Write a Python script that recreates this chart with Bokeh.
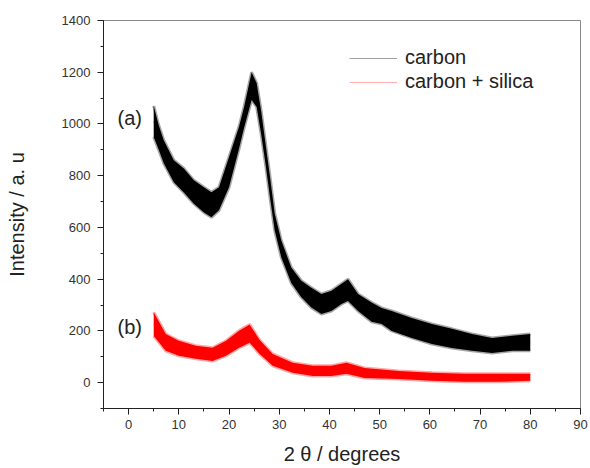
from bokeh.plotting import figure
from bokeh.models import (ColumnDataSource, Legend, LegendItem, Label,
                          SingleIntervalTicker, Range1d)
from bokeh.embed import file_html
from bokeh.resources import INLINE

# ---- data (band of the noisy trace: low / high) ----
carbon_2theta = [5, 6, 7, 9, 11, 13, 15, 16.5, 18, 20, 22, 23, 24.5, 25.5,
                 26.4, 27.3, 28.2, 29.1, 30.4, 32.4, 34.4, 36.4, 38.4, 40.4,
                 42.4, 43.7, 45.7, 48.4, 50.4, 52.4, 56.4, 60.4, 64.4, 68.4,
                 72.4, 76.4, 80]
carbon_low = [950, 900, 848, 775, 735, 692, 658, 639, 666, 755, 905, 985,
              1093, 1066, 960, 840, 710, 588, 485, 385, 330, 290, 265, 277,
              304, 316, 277, 235, 227, 200, 173, 149, 134, 123, 115, 123, 123]
carbon_high = [1070, 995, 937, 860, 828, 782, 755, 736, 755, 872, 990, 1066,
               1200, 1158, 1050, 920, 790, 654, 550, 445, 394, 367, 343, 355,
               382, 400, 343, 310, 289, 277, 250, 227, 208, 188, 173, 181, 188]

silica_2theta = [5, 7.4, 10, 13.4, 16.7, 19.4, 22, 24.1, 26.1, 28.7, 32.7,
                 36.7, 40.4, 43.4, 47, 53.8, 60.4, 67, 73.8, 80]
silica_low = [180, 123, 104, 92, 84, 104, 135, 154, 111, 65, 38, 26, 26, 34,
              18, 14, 7, 3, 3, 7]
silica_high = [272, 188, 162, 143, 135, 162, 201, 225, 165, 111, 77, 65, 65,
               77, 57, 45, 38, 34, 34, 34]

series_names = ["carbon", "carbon + silica"]
curve_labels = ["(a)", "(b)"]

FONT = "Liberation Sans"

src_c = ColumnDataSource(dict(x=carbon_2theta, lo=carbon_low, hi=carbon_high,
                              mid=[(a + b) / 2 for a, b in zip(carbon_low, carbon_high)]))
src_s = ColumnDataSource(dict(x=silica_2theta, lo=silica_low, hi=silica_high,
                              mid=[(a + b) / 2 for a, b in zip(silica_low, silica_high)]))

p = figure(frame_width=477, frame_height=388,
           min_border_left=103, min_border_right=10, min_border_top=20,
           min_border_bottom=0,
           x_range=Range1d(-5, 90), y_range=Range1d(-100, 1400),
           output_backend="svg", toolbar_location=None)

p.xgrid.visible = False
p.ygrid.visible = False
p.outline_line_color = "#8a8a8a"
p.outline_line_width = 1
p.background_fill_color = "white"
p.border_fill_color = "white"

# legend lines (hidden underneath the bands)
lc = p.line("x", "mid", source=src_c, line_color="#a0a0a0", line_width=1)
ls = p.line("x", "mid", source=src_s, line_color="#ffb0b0", line_width=1)

# noisy fringe of each trace
for src, col in ((src_c, "black"), (src_s, "#ff0000")):
    p.line("x", "lo", source=src, line_color=col, line_width=3, line_alpha=0.35)
    p.line("x", "hi", source=src, line_color=col, line_width=3, line_alpha=0.35)

p.varea(x="x", y1="lo", y2="hi", source=src_c, fill_color="black")
p.varea(x="x", y1="lo", y2="hi", source=src_s, fill_color="#ff0000")

# axes
p.xaxis.ticker = SingleIntervalTicker(interval=10, num_minor_ticks=2)
p.yaxis.ticker = SingleIntervalTicker(interval=200, num_minor_ticks=2)
for ax in (p.xaxis[0], p.yaxis[0]):
    ax.axis_line_color = "#222222"
    ax.major_tick_line_color = "#222222"
    ax.minor_tick_line_color = "#222222"
    ax.major_tick_in = 0
    ax.major_tick_out = 6
    ax.minor_tick_in = 0
    ax.minor_tick_out = 3
    ax.major_label_text_font = FONT
    ax.major_label_text_font_size = "13px"
    ax.major_label_text_color = "#333333"
    ax.axis_label_text_font = FONT
    ax.axis_label_text_font_size = "20px"
    ax.axis_label_text_font_style = "normal"
    ax.axis_label_text_color = "#222222"

p.xaxis.axis_label = "2 θ / degrees"
p.yaxis.axis_label = "Intensity / a. u"
p.xaxis.major_label_standoff = 5
p.xaxis.axis_label_standoff = 11
p.yaxis.major_label_standoff = 7
p.yaxis.axis_label_standoff = 31

# curve labels
p.add_layout(Label(x=-2.2, y=1023, text=curve_labels[0], text_font=FONT,
                   text_font_size="20px", text_baseline="middle",
                   text_color="#222222"))
p.add_layout(Label(x=-2.2, y=216, text=curve_labels[1], text_font=FONT,
                   text_font_size="20px", text_baseline="middle",
                   text_color="#222222"))

legend = Legend(items=[LegendItem(label=series_names[0], renderers=[lc]),
                       LegendItem(label=series_names[1], renderers=[ls])],
                location=(246, 315), border_line_color=None,
                background_fill_alpha=0, label_text_font=FONT,
                label_text_font_size="20px", label_text_color="#222222",
                glyph_width=48, glyph_height=20, label_height=20,
                label_standoff=8, padding=10, spacing=1)
p.add_layout(legend)

open("out.html", "w").write(file_html(p, INLINE))
